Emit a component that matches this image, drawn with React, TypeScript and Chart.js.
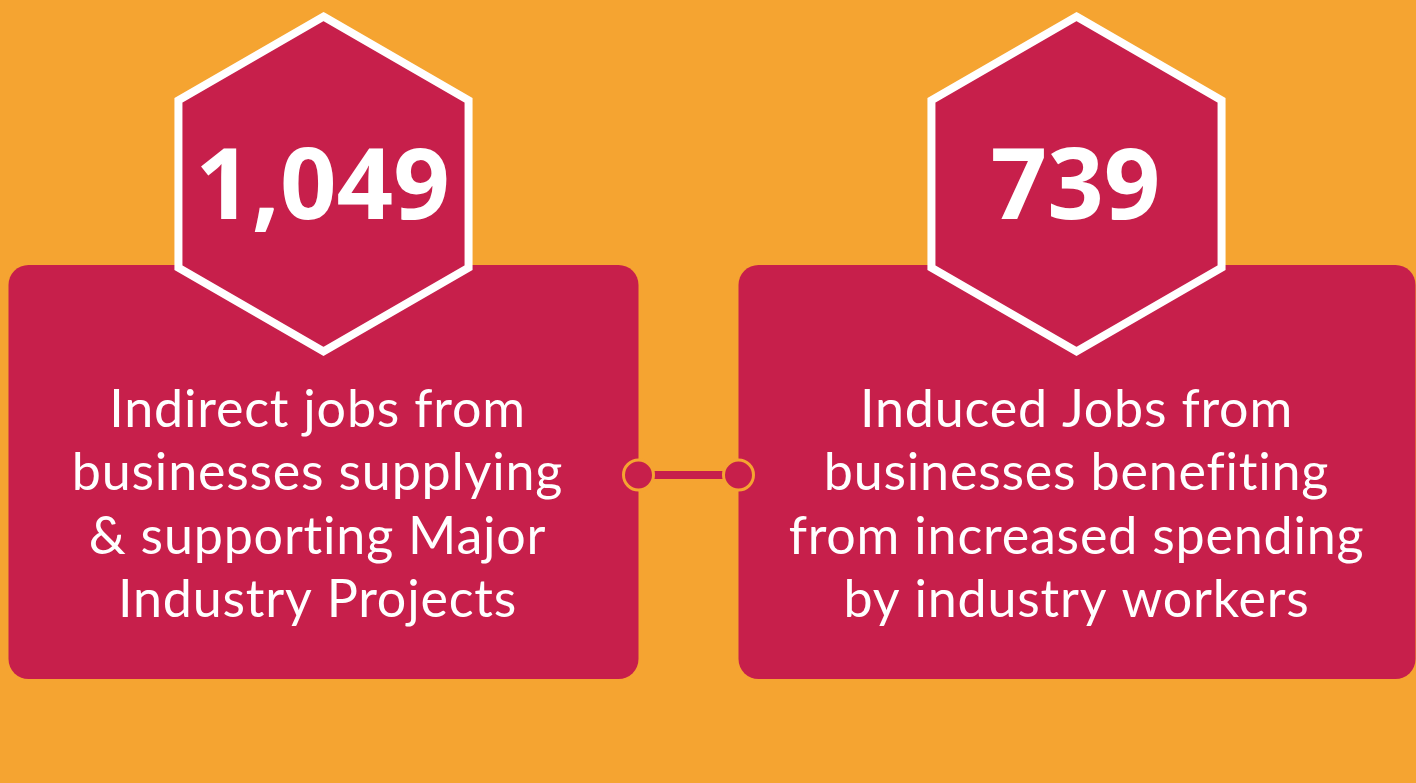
import React, { useEffect, useRef } from "react";
import { Chart, registerables } from "chart.js";

Chart.register(...registerables);

// ---- data ----
const categories = ["Indirect jobs", "Induced jobs"];
const jobValues = [1049, 739];
const indirectLines = [
  "Indirect jobs from",
  "businesses supplying",
  "& supporting Major",
  "Industry Projects",
];
const inducedLines = [
  "Induced Jobs from",
  "businesses benefiting",
  "from increased spending",
  "by industry workers",
];
const descriptions = [indirectLines, inducedLines];

// ---- style ----
const ORANGE = "#F5A431";
const CRIMSON = "#C71F4B";
const WHITE = "#FFFFFF";
const BOX_LEFT_HALF = [315, 338];
const BOX_RIGHT_HALF = [315, 339];
const TEXT_SHIFT = [-6, 0];
const BOX_TOP = 265;
const BOX_BOTTOM = 679;
const BOX_RADIUS = 20;
const HEX_CY = 184;
const HEX_R = 167.5;
const CONNECT_Y = 475;

function roundRect(ctx: CanvasRenderingContext2D, x: number, y: number, w: number, h: number, r: number) {
  ctx.beginPath();
  ctx.moveTo(x + r, y);
  ctx.lineTo(x + w - r, y);
  ctx.arcTo(x + w, y, x + w, y + r, r);
  ctx.lineTo(x + w, y + h - r);
  ctx.arcTo(x + w, y + h, x + w - r, y + h, r);
  ctx.lineTo(x + r, y + h);
  ctx.arcTo(x, y + h, x, y + h - r, r);
  ctx.lineTo(x, y + r);
  ctx.arcTo(x, y, x + r, y, r);
  ctx.closePath();
}

const infographicPlugin = {
  id: "infographic",
  beforeDraw(chart: any) {
    const ctx = chart.ctx as CanvasRenderingContext2D;
    ctx.save();
    ctx.fillStyle = ORANGE;
    ctx.fillRect(0, 0, chart.width, chart.height);
    ctx.restore();
  },
  afterDraw(chart: any) {
    const ctx = chart.ctx as CanvasRenderingContext2D;
    const xs = chart.scales.x;
    const values = chart.data.datasets[0].data as number[];
    const centers = values.map((_, i) => xs.getPixelForValue(i));
    ctx.save();
    // boxes
    centers.forEach((cx, i) => {
      const l = cx - BOX_LEFT_HALF[i];
      const r = cx + BOX_RIGHT_HALF[i];
      ctx.fillStyle = CRIMSON;
      roundRect(ctx, l, BOX_TOP, r - l, BOX_BOTTOM - BOX_TOP, BOX_RADIUS);
      ctx.fill();
    });
    // connector
    const x1 = centers[0] + BOX_RIGHT_HALF[0];
    const x2 = centers[1] - BOX_LEFT_HALF[1];
    ctx.strokeStyle = CRIMSON;
    ctx.lineWidth = 8;
    ctx.beginPath();
    ctx.moveTo(x1, CONNECT_Y);
    ctx.lineTo(x2, CONNECT_Y);
    ctx.stroke();
    [x1, x2].forEach((x) => {
      ctx.beginPath();
      ctx.arc(x, CONNECT_Y, 15, 0, Math.PI * 2);
      ctx.fillStyle = CRIMSON;
      ctx.fill();
      ctx.lineWidth = 3;
      ctx.strokeStyle = ORANGE;
      ctx.stroke();
    });
    // hexagons + numbers + text
    centers.forEach((cx, i) => {
      ctx.beginPath();
      for (let k = 0; k < 6; k++) {
        const a = -Math.PI / 2 + (k * Math.PI) / 3;
        const px = cx + HEX_R * Math.cos(a);
        const py = HEX_CY + HEX_R * Math.sin(a);
        if (k === 0) ctx.moveTo(px, py);
        else ctx.lineTo(px, py);
      }
      ctx.closePath();
      ctx.fillStyle = CRIMSON;
      ctx.fill();
      ctx.lineWidth = 8;
      ctx.lineJoin = "miter";
      ctx.strokeStyle = WHITE;
      ctx.stroke();

      ctx.fillStyle = WHITE;
      ctx.textAlign = "center";
      ctx.textBaseline = "alphabetic";
      (ctx as any).letterSpacing = "0px";
      ctx.font = "bold 99px 'Open Sans'";
      ctx.fillText(values[i].toLocaleString("en-US"), cx - 1, 219);

      ctx.font = "52px Lato";
      (ctx as any).letterSpacing = "0.8px";
      descriptions[i].forEach((line, j) => {
        ctx.fillText(line, cx + TEXT_SHIFT[i], 427 + j * 63.3);
      });
      (ctx as any).letterSpacing = "0px";
    });
    ctx.restore();
  },
};

export default function App() {
  const ref = useRef<HTMLCanvasElement | null>(null);
  useEffect(() => {
    document.body.style.margin = "0";
    const chart = new Chart(ref.current as HTMLCanvasElement, {
      type: "bar",
      data: {
        labels: categories,
        datasets: [
          {
            label: "Jobs",
            data: jobValues,
            backgroundColor: "rgba(0,0,0,0)",
            borderWidth: 0,
          },
        ],
      },
      options: {
        responsive: false,
        animation: false,
        layout: { padding: { left: 323.5, right: 339.5, top: 0, bottom: 0 } },
        plugins: { legend: { display: false }, tooltip: { enabled: false } },
        scales: {
          x: { display: false, offset: false },
          y: { display: false, beginAtZero: true },
        },
      },
      plugins: [infographicPlugin],
    });
    return () => chart.destroy();
  }, []);
  return (
    <div style={{ position: "absolute", left: 0, top: 0, width: 1416, height: 783 }}>
      <canvas ref={ref} width={1416} height={783} />
    </div>
  );
}
